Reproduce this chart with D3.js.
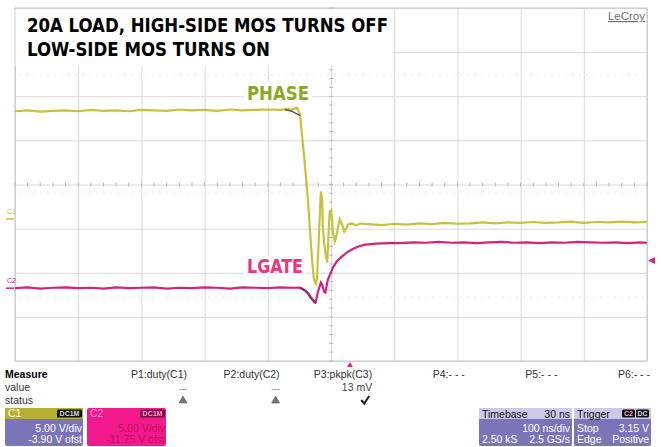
<!DOCTYPE html>
<html>
<head>
<meta charset="utf-8">
<script src="https://cdn.jsdelivr.net/npm/d3@7"></script>
<style>
  body { margin: 0; background: #fff; }
  svg { display: block; font-family: "Liberation Sans", Arial, sans-serif; }
</style>
</head>
<body>
<svg id="scope" width="661" height="447"></svg>
<script>
// grid: 100 ns/div horizontally, 8 vertical divisions
const timeTicks = [-500, -400, -300, -200, -100, 0, 100, 200, 300, 400, 500];
const divTicks = [-4, -3, -2, -1, 0, 1, 2, 3, 4];

// channel settings (V/div, offset)
const ch1 = { name: 'C1', vdiv: 5, ofst: -3.9 };
const ch2 = { name: 'C2', vdiv: 5, ofst: -11.75 };
const triggerLevel = 3.15;
const triggerDelay = 30;

// PHASE (C1) trace, time in ns, volts
const phaseT = [-500, -480, -460, -440, -420, -400, -380, -360, -340, -320, -300,
  -280, -260, -240, -220, -200, -180, -160, -140, -120, -100, -80,
  -70, -62, -54, -49, -46, -41, -36, -33, -30, -27, -24, -22, -21, -19, -17, -16,
  -14, -13, -11, -8, -6, -5, -3, -2, 0, 2, 3, 6, 8, 11, 14, 17, 21, 24, 27, 33, 40, 46,
  60, 80, 100, 120, 140, 160, 180, 200, 220, 240, 260, 280, 300, 320, 340, 360,
  380, 400, 420, 440, 460, 480, 500];
const phaseV = [12.2, 12.3, 12.15, 12.25, 12.3, 12.2, 12.35, 12.25, 12.3, 12.2, 12.35,
  12.3, 12.25, 12.4, 12.3, 12.35, 12.25, 12.4, 12.3, 12.35, 12.4, 12.35,
  12.45, 12.4, 12.6, 11.84, 9.57, 5.94, 1.63, -1.54, -4.6, -6.88, -7.33, -6.64, -4.83, -1.77, 1.63, 3.11,
  2.2, -0.75, -2.68, -4.26, -4.94, -3.47, -0.29, 0.84, 0.95, -0.29, -1.54, -2.56, -2.11, -0.98, -0.07, -0.52, -1.43, -1.09, -0.63, -0.52, -0.75, -0.52,
  -0.6, -0.7, -0.55, -0.65, -0.5, -0.6, -0.45, -0.55, -0.5, -0.4, -0.5, -0.4, -0.45, -0.35, -0.45, -0.4,
  -0.3, -0.45, -0.35, -0.4, -0.3, -0.4, -0.35];
const phaseDarkT = [-73, -62, -49];
const phaseDarkV = [12.4, 12.2, 11.7];

// LGATE (C2) trace
const lgateT = [-500, -480, -460, -440, -420, -400, -380, -360, -340, -320, -300, -280,
  -260, -240, -220, -200, -180, -160, -140, -120, -100, -80, -60,
  -49, -41, -36, -33, -28, -25, -24, -21, -17, -16, -14, -11, -9, -8, -5, 0, 3, 9,
  17, 25, 33, 43, 54, 70, 93,
  110, 130, 150, 170, 190, 210, 230, 250, 270, 290, 310, 330, 350, 370, 390, 410,
  430, 450, 470, 490, 500];
const lgateV = [0.0, 0.1, -0.05, 0.05, 0.1, 0.0, 0.05, -0.05, 0.1, 0.0, 0.05, 0.1,
  -0.05, 0.05, 0.0, 0.1, 0.05, -0.05, 0.1, 0.05, 0.0, 0.1, 0.05,
  0.07, -0.27, -0.61, -0.95, -1.41, -1.63, -1.52, -0.5, 0.41, 0.63, 0.41, -0.39, -0.5, -0.16, 0.98, 1.77, 2.34, 3.02,
  3.58, 4.04, 4.38, 4.72, 4.94, 5.06, 5.11,
  5.1, 5.2, 5.15, 5.25, 5.15, 5.2, 5.1, 5.2, 5.25, 5.15, 5.2, 5.1, 5.2, 5.15, 5.25, 5.2,
  5.15, 5.2, 5.1, 5.2, 5.15];

const titleLines = ['20A LOAD, HIGH-SIDE MOS TURNS OFF', 'LOW-SIDE MOS TURNS ON'];

const measureLabels = ['P1:duty(C1)', 'P2:duty(C2)', 'P3:pkpk(C3)', 'P4:- - -', 'P5:- - -', 'P6:- - -'];
const measureValues = ['---', '---', '13 mV', '', '', ''];
const measureStatus = ['warn', 'warn', 'ok', '', '', ''];

const svg = d3.select('#scope');

const x = d3.scaleLinear().domain([-500, 500]).range([15, 647]);
const y = d3.scaleLinear().domain([-4, 4]).range([361, 8]);
const toDiv = (ch, v) => (v + ch.ofst) / ch.vdiv;

// grid
const gridH = y(-4) - y(4);
const gx = svg.append('g')
  .attr('transform', `translate(0,${y(-4)})`)
  .call(d3.axisBottom(x).tickValues(timeTicks).tickSize(-gridH).tickFormat(''));
const gy = svg.append('g')
  .attr('transform', `translate(${x(-500)},0)`)
  .call(d3.axisLeft(y).tickValues(divTicks).tickSize(-(x(500) - x(-500))).tickFormat(''));
[gx, gy].forEach((g) => {
  g.select('.domain').remove();
  g.selectAll('.tick line').attr('stroke', '#d9d9d9');
});

svg.append('rect')
  .attr('x', x(-500)).attr('y', y(4))
  .attr('width', x(500) - x(-500)).attr('height', gridH)
  .attr('fill', 'none').attr('stroke', '#c6c6c6');

// faint ghost rows
[75, 192, 297].forEach((yy) => {
  svg.append('line')
    .attr('x1', x(-500) + 4).attr('x2', x(500) - 4)
    .attr('y1', yy).attr('y2', yy)
    .attr('stroke', '#e6e6e6').attr('stroke-dasharray', '2,5');
});

// minor ticks on the centre cross
svg.append('g').selectAll('line')
  .data(d3.range(-500, 501, 20))
  .join('line')
  .attr('x1', (d) => x(d)).attr('x2', (d) => x(d))
  .attr('y1', y(0) - 2).attr('y2', y(0) + 2)
  .attr('stroke', '#b8b8b8');
svg.append('g').selectAll('line')
  .data(d3.range(-4, 4.01, 0.2))
  .join('line')
  .attr('x1', x(0) - 2).attr('x2', x(0) + 2)
  .attr('y1', (d) => y(d)).attr('y2', (d) => y(d))
  .attr('stroke', '#b8b8b8');

// title box
svg.append('rect').attr('x', 15.5).attr('y', 9).attr('width', 378).attr('height', 57).attr('fill', '#fff');
const titleFont = '"Liberation Sans Narrow", "DejaVu Sans Condensed", "Arial Narrow", sans-serif';
svg.append('text').attr('x', 27).attr('y', 32)
  .attr('font-family', titleFont).attr('font-weight', 'bold').attr('font-size', 20)
  .attr('textLength', 361).attr('lengthAdjust', 'spacingAndGlyphs')
  .text(titleLines[0]);
svg.append('text').attr('x', 27).attr('y', 56)
  .attr('font-family', titleFont).attr('font-weight', 'bold').attr('font-size', 20)
  .attr('textLength', 243).attr('lengthAdjust', 'spacingAndGlyphs')
  .text(titleLines[1]);

svg.append('text').attr('x', 645).attr('y', 20).attr('text-anchor', 'end')
  .attr('font-size', 11.5).attr('fill', '#6e6e6e').attr('text-decoration', 'underline')
  .text('LeCroy');

// trace labels
svg.append('rect').attr('x', 244).attr('y', 82).attr('width', 68).attr('height', 22).attr('fill', '#fff');
svg.append('rect').attr('x', 244).attr('y', 256).attr('width', 62).attr('height', 21).attr('fill', '#fff');

// traces
const line = d3.line().x((d) => x(d.t)).y((d) => y(d.div));
const phase = phaseT.map((t, i) => ({ t, div: toDiv(ch1, phaseV[i]) }));
const phaseDark = phaseDarkT.map((t, i) => ({ t, div: toDiv(ch1, phaseDarkV[i]) }));
const lgate = lgateT.map((t, i) => ({ t, div: toDiv(ch2, lgateV[i]) }));

svg.append('path').attr('d', line(lgate))
  .attr('fill', 'none').attr('stroke', '#d4237c').attr('stroke-width', 2.2);
svg.append('path').attr('d', line(lgate.filter((d) => d.t >= -49 && d.t <= -24)))
  .attr('fill', 'none').attr('stroke', '#952a66').attr('stroke-width', 2.2);
svg.append('path').attr('d', line(phase))
  .attr('fill', 'none').attr('stroke', '#c6c33a').attr('stroke-width', 2.2);
svg.append('path').attr('d', line(phaseDark))
  .attr('fill', 'none').attr('stroke', '#555').attr('stroke-width', 1.4);

svg.append('text').attr('x', 247).attr('y', 100)
  .attr('font-family', titleFont).attr('font-weight', 'bold').attr('font-size', 20)
  .attr('fill', '#8aab1e').attr('textLength', 62).attr('lengthAdjust', 'spacingAndGlyphs')
  .text('PHASE');
svg.append('text').attr('x', 247).attr('y', 273)
  .attr('font-family', titleFont).attr('font-weight', 'bold').attr('font-size', 20)
  .attr('fill', '#f0337a').attr('textLength', 56).attr('lengthAdjust', 'spacingAndGlyphs')
  .text('LGATE');

// channel zero markers
[[ch1, '#c8c23c'], [ch2, '#d4237c']].forEach(([ch, col]) => {
  const yy = y(toDiv(ch, 0));
  svg.append('line').attr('x1', 6).attr('x2', 14).attr('y1', yy).attr('y2', yy)
    .attr('stroke', col).attr('stroke-width', 1.5);
  svg.append('text').attr('x', 7).attr('y', yy - 5).attr('font-size', 7).attr('fill', col).text(ch.name);
});

// trigger level arrow (right) and trigger position (bottom)
const ty = y(toDiv(ch2, triggerLevel));
svg.append('path').attr('d', `M648,${ty} L655,${ty - 3.5} L655,${ty + 3.5} Z`).attr('fill', '#d4237c');
const tx = x(triggerDelay);
svg.append('path').attr('d', `M${tx},362 L${tx - 3},367 L${tx + 3},367 Z`).attr('fill', '#e0287a');

// measurement table
const mx = d3.scaleLinear().domain([0, 5]).range([187, 650]);
const small = 10.5;
svg.append('text').attr('x', 5).attr('y', 378).attr('font-size', small).attr('font-weight', 'bold').text('Measure');
svg.append('text').attr('x', 5).attr('y', 391).attr('font-size', small).attr('fill', '#333').text('value');
svg.append('text').attr('x', 5).attr('y', 404).attr('font-size', small).attr('fill', '#333').text('status');

measureLabels.forEach((lab, i) => {
  const xx = mx(i);
  svg.append('text').attr('x', xx).attr('y', 378).attr('text-anchor', 'end')
    .attr('font-size', small).attr('fill', '#333').text(lab);
  if (measureValues[i]) {
    svg.append('text').attr('x', xx).attr('y', 391).attr('text-anchor', 'end')
      .attr('font-size', measureValues[i] === '---' ? 8 : small).attr('fill', '#444').text(measureValues[i]);
  }
  if (measureStatus[i] === 'warn') {
    svg.append('path').attr('d', `M${xx - 4},396 L${xx - 8},403 L${xx},403 Z`)
      .attr('fill', '#777').attr('stroke', '#555').attr('stroke-width', 0.6);
  } else if (measureStatus[i] === 'ok') {
    svg.append('path').attr('d', `M${xx - 11},400 L${xx - 8},403.5 L${xx - 3},396`)
      .attr('fill', 'none').attr('stroke', '#222').attr('stroke-width', 2);
  }
});

// descriptor boxes
function box(x0, w, body, head) {
  svg.append('rect').attr('x', x0).attr('y', 408).attr('width', w).attr('height', 38).attr('rx', 2).attr('fill', body);
  if (head) svg.append('rect').attr('x', x0).attr('y', 408).attr('width', w).attr('height', 11).attr('fill', head);
}
function label(xx, yy, txt, col, anchor) {
  svg.append('text').attr('x', xx).attr('y', yy).attr('font-size', small)
    .attr('fill', col).attr('text-anchor', anchor || 'start').text(txt);
}
function badge(xx, w, txt, bg, col) {
  svg.append('rect').attr('x', xx).attr('y', 409.5).attr('width', w).attr('height', 8).attr('rx', 1.5).attr('fill', bg);
  svg.append('text').attr('x', xx + w / 2).attr('y', 416.3).attr('text-anchor', 'middle')
    .attr('font-size', 7).attr('font-weight', 'bold').attr('fill', col).text(txt);
}

box(5, 78, '#7b74b8', '#b5b030');
label(8, 417, 'C1', '#fff');
badge(57, 25, 'DC1M', '#111', '#ddd');
label(82, 432, ch1.vdiv.toFixed(2) + ' V/div', '#fff', 'end');
label(82, 443, ch1.ofst.toFixed(2) + ' V ofst', '#fff', 'end');

box(87, 79, '#f2198c', null);
label(90, 417, 'C2', '#ff9fd0');
badge(140, 25, 'DC1M', '#7a0c40', '#ff9fd0');
label(165, 432, ch2.vdiv.toFixed(2) + ' V/div', '#c0105c', 'end');
label(165, 443, ch2.ofst.toFixed(2) + ' V ofst', '#c0105c', 'end');

box(479, 93, '#7b74b8', '#cdc9ea');
label(482, 417.5, 'Timebase', '#111');
label(570, 417.5, triggerDelay + ' ns', '#111', 'end');
label(570, 432, '100 ns/div', '#fff', 'end');
label(482, 443, '2.50 kS', '#fff');
label(570, 443, '2.5 GS/s', '#fff', 'end');

box(574, 77, '#7b74b8', '#cdc9ea');
label(577, 417.5, 'Trigger', '#111');
badge(622, 13, 'C2', '#111', '#f2a0cc');
badge(636, 13, 'DC', '#111', '#ddd');
label(649, 432, triggerLevel.toFixed(2) + ' V', '#fff', 'end');
label(577, 432, 'Stop', '#fff');
label(577, 443, 'Edge', '#fff');
label(649, 443, 'Positive', '#fff', 'end');
</script>
</body>
</html>
